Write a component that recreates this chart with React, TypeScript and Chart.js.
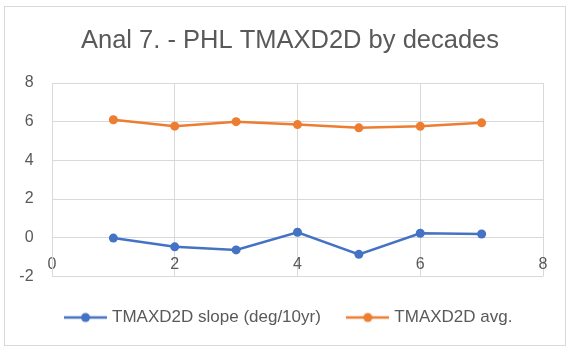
import React, { useEffect, useRef } from "react";
import { Chart, registerables } from "chart.js";

Chart.register(...registerables);

const decades = [1, 2, 3, 4, 5, 6, 7];
const slopeValues = [-0.02, -0.47, -0.63, 0.28, -0.86, 0.23, 0.19];
const avgValues = [6.1, 5.77, 6.0, 5.85, 5.68, 5.76, 5.94];
const seriesNames = ["TMAXD2D slope (deg/10yr)", "TMAXD2D avg."];
const titleText = "Anal 7. - PHL TMAXD2D by decades";

const BLUE = "#4472C4";
const ORANGE = "#ED7D31";
const TEXT = "#595959";
const GRID = "#d9d9d9";
const FONT = "'Liberation Sans', Arial, sans-serif";

function legendIcon(color: string): HTMLCanvasElement {
  const c = document.createElement("canvas");
  c.width = 43;
  c.height = 12;
  const ctx = c.getContext("2d")!;
  ctx.strokeStyle = color;
  ctx.lineWidth = 2.5;
  ctx.beginPath();
  ctx.moveTo(0, 6);
  ctx.lineTo(43, 6);
  ctx.stroke();
  ctx.fillStyle = color;
  ctx.beginPath();
  ctx.arc(21.5, 6, 4.5, 0, Math.PI * 2);
  ctx.fill();
  return c;
}

export default function App() {
  const ref = useRef<HTMLCanvasElement>(null);

  useEffect(() => {
    if (!ref.current) return;
    const icons = [legendIcon(BLUE), legendIcon(ORANGE)];
    const chart = new Chart(ref.current, {
      type: "scatter",
      data: {
        datasets: [
          {
            label: seriesNames[0],
            data: decades.map((x, i) => ({ x, y: slopeValues[i] })),
            showLine: true,
            borderColor: BLUE,
            backgroundColor: BLUE,
            borderWidth: 2.5,
            pointRadius: 4.5,
            pointBorderWidth: 0,
            pointStyle: "circle",
          },
          {
            label: seriesNames[1],
            data: decades.map((x, i) => ({ x, y: avgValues[i] })),
            showLine: true,
            borderColor: ORANGE,
            backgroundColor: ORANGE,
            borderWidth: 2.5,
            pointRadius: 4.5,
            pointBorderWidth: 0,
            pointStyle: "circle",
          },
        ],
      },
      options: {
        responsive: false,
        animation: false,
        layout: { padding: { left: 37, right: 26, top: 0, bottom: 13 } },
        scales: {
          x: {
            type: "linear",
            min: 0,
            max: 8,
            position: { y: 0 } as any,
            ticks: {
              stepSize: 2,
              color: TEXT,
              font: { family: FONT, size: 16 },
              padding: 17,
            },
            grid: { color: GRID, lineWidth: 1, drawTicks: false },
            border: { color: GRID, width: 1 },
          },
          y: {
            type: "linear",
            min: -2,
            max: 8,
            ticks: {
              stepSize: 2,
              color: TEXT,
              font: { family: FONT, size: 16 },
              mirror: true,
              crossAlign: "far",
              padding: -32.7,
            },
            grid: { color: GRID, lineWidth: 1, drawTicks: false },
            border: { color: GRID, width: 1 },
            afterFit: (scale: any) => {
              scale.width = 15;
            },
          },
        },
        plugins: {
          title: {
            display: true,
            text: titleText,
            color: TEXT,
            font: { family: FONT, size: 25.5, weight: "normal" as any },
            padding: { top: 26, bottom: 26.4 },
          },
          legend: {
            display: true,
            position: "bottom",
            title: {
              display: true,
              text: " ",
              padding: 0,
              font: { family: FONT, size: 3 },
            },
            labels: {
              usePointStyle: true,
              pointStyleWidth: 36,
              padding: 29,
              color: TEXT,
              font: { family: FONT, size: 17 },
              generateLabels: (ch: any) =>
                ch.data.datasets.map((ds: any, i: number) => ({
                  text: ds.label,
                  pointStyle: icons[i],
                  fillStyle: ds.borderColor,
                  strokeStyle: ds.borderColor,
                  lineWidth: 0,
                  hidden: false,
                  datasetIndex: i,
                  fontColor: TEXT,
                })),
            },
          },
          tooltip: { enabled: false },
        },
      },
    });
    return () => chart.destroy();
  }, []);

  return (
    <div
      style={{
        position: "fixed",
        left: 0,
        top: 0,
        width: 569,
        height: 349,
        background: "#ffffff",
        overflow: "hidden",
      }}
    >
      <div
        style={{
          position: "absolute",
          left: 4,
          top: 6,
          width: 562,
          height: 340,
          border: "1px solid #d9d9d9",
          boxSizing: "border-box",
        }}
      />
      <canvas
        ref={ref}
        width={569}
        height={349}
        style={{ position: "absolute", left: 0, top: 0, width: 569, height: 349 }}
      />
    </div>
  );
}
